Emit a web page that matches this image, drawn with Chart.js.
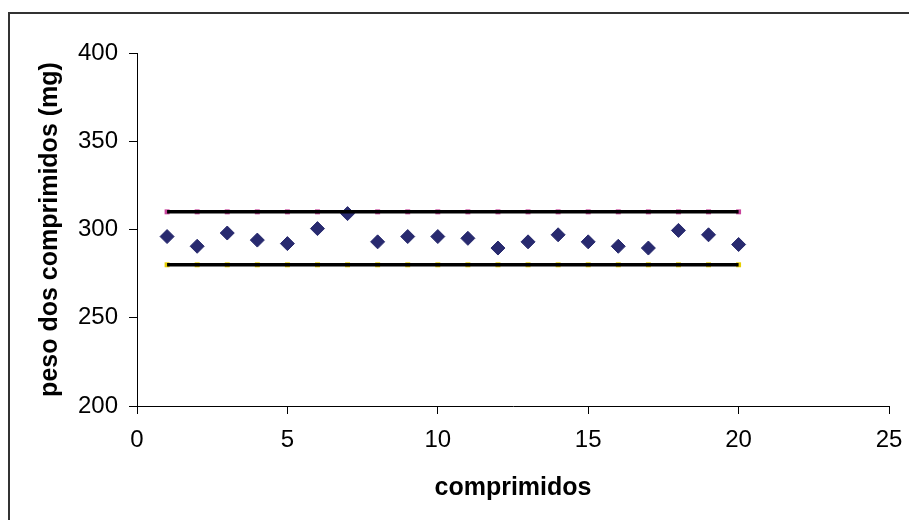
<!DOCTYPE html>
<html>
<head>
<meta charset="utf-8">
<script src="https://cdn.jsdelivr.net/npm/chart.js@4/dist/chart.umd.min.js"></script>
<style>
  html, body { margin: 0; padding: 0; background: #fff; }
  #wrap { width: 909px; height: 520px; }
</style>
</head>
<body>
<div id="wrap"><canvas id="c" width="909" height="520"></canvas></div>
<script>
// Tablet numbers along the x axis
const comprimidos = [1, 2, 3, 4, 5, 6, 7, 8, 9, 10, 11, 12, 13, 14, 15, 16, 17, 18, 19, 20];
// Measured tablet weights (mg)
const pesos = [296, 290.5, 298, 294, 292, 300.5, 309, 293, 296, 296,
               295, 289.5, 293, 297, 293, 290.5, 289.5, 299.5, 297, 291.5];
// Upper and lower weight limits (mg)
const limiteSuperior = [310, 310, 310, 310, 310, 310, 310, 310, 310, 310,
                        310, 310, 310, 310, 310, 310, 310, 310, 310, 310];
const limiteInferior = [280, 280, 280, 280, 280, 280, 280, 280, 280, 280,
                        280, 280, 280, 280, 280, 280, 280, 280, 280, 280];
// Axis tick settings
const xTicks = { min: 0, max: 25, step: 5 };
const yTicks = { min: 200, max: 400, step: 50 };

const toXY = (xs, ys) => xs.map((x, i) => ({ x: x, y: ys[i] }));

Chart.defaults.font.family = "'Liberation Sans', Arial, sans-serif";
Chart.defaults.color = '#000';

// Outer frame of the chart
const frame = {
  id: 'frame',
  beforeDraw(chart) {
    const ctx = chart.ctx;
    ctx.save();
    ctx.fillStyle = '#fff';
    ctx.fillRect(0, 0, chart.width, chart.height);
    ctx.strokeStyle = '#333';
    ctx.lineWidth = 2;
    ctx.beginPath();
    ctx.moveTo(9, chart.height);
    ctx.lineTo(9, 13);
    ctx.lineTo(chart.width, 13);
    ctx.stroke();
    ctx.restore();
  }
};

new Chart(document.getElementById('c'), {
  type: 'scatter',
  data: {
    datasets: [
      {
        label: 'limite superior',
        data: toXY(comprimidos, limiteSuperior),
        showLine: true,
        borderColor: '#000',
        borderWidth: 3.5,
        pointRadius: 0,
        order: 0
      },
      {
        label: 'limite inferior',
        data: toXY(comprimidos, limiteInferior),
        showLine: true,
        borderColor: '#000',
        borderWidth: 3.5,
        pointRadius: 0,
        order: 0
      },
      {
        label: 'peso',
        data: toXY(comprimidos, pesos),
        pointStyle: 'rectRot',
        pointRadius: 7,
        backgroundColor: '#282a6f',
        borderColor: '#282a6f',
        borderWidth: 1,
        order: 1
      },
      {
        label: 'sup',
        data: toXY(comprimidos, limiteSuperior),
        pointStyle: 'rect',
        pointRadius: 3.5,
        backgroundColor: '#c8449c',
        borderColor: '#c8449c',
        borderWidth: 0,
        order: 2
      },
      {
        label: 'inf',
        data: toXY(comprimidos, limiteInferior),
        pointStyle: 'rect',
        pointRadius: 3.5,
        backgroundColor: '#e6cf00',
        borderColor: '#e6cf00',
        borderWidth: 0,
        order: 2
      }
    ]
  },
  options: {
    responsive: false,
    animation: false,
    layout: { padding: { left: 0, top: 53, right: 20, bottom: 0 } },
    plugins: {
      legend: { display: false },
      tooltip: { enabled: false }
    },
    scales: {
      x: {
        type: 'linear',
        min: xTicks.min,
        max: xTicks.max,
        afterFit(scale) {
          scale.height = 114;
          scale.paddingLeft = 0;
          scale.paddingRight = 0;
        },
        ticks: { stepSize: xTicks.step, padding: 12, font: { size: 24 } },
        grid: { drawOnChartArea: false, drawTicks: true, tickLength: 8, color: '#000', lineWidth: 1 },
        border: { display: true, color: '#000', width: 1 },
        title: {
          display: true,
          text: 'comprimidos',
          font: { size: 25, weight: 'bold' },
          padding: { top: 17, bottom: 17 }
        }
      },
      y: {
        min: yTicks.min,
        max: yTicks.max,
        afterFit(scale) {
          scale.width = 137;
          scale.paddingTop = 0;
          scale.paddingBottom = 0;
        },
        ticks: { stepSize: yTicks.step, padding: 11, font: { size: 24 } },
        grid: { drawOnChartArea: false, drawTicks: true, tickLength: 8, color: '#000', lineWidth: 1 },
        border: { display: true, color: '#000', width: 1 },
        title: {
          display: true,
          text: 'peso dos comprimidos (mg)',
          font: { size: 25, weight: 'bold' },
          padding: { top: 35, bottom: 35 }
        }
      }
    }
  },
  plugins: [frame]
});
</script>
</body>
</html>
